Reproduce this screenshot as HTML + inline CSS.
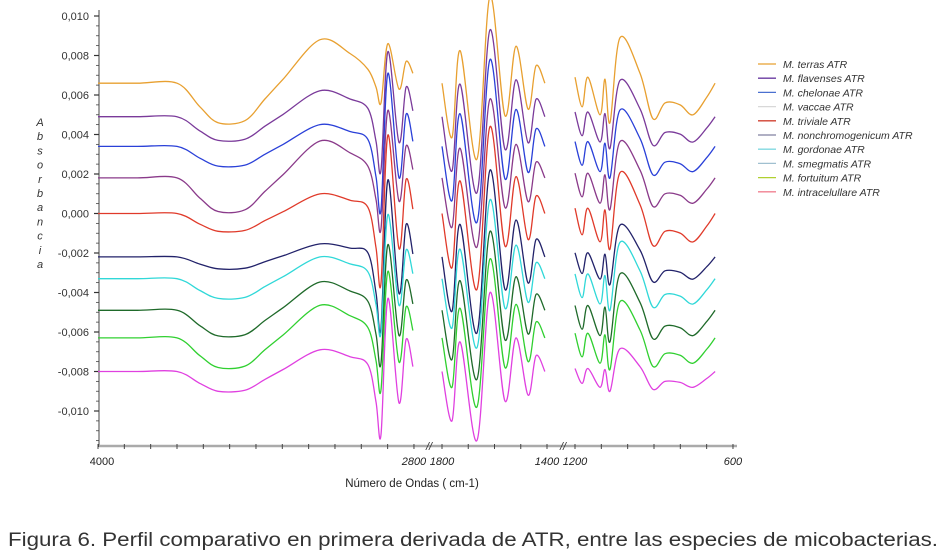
<!DOCTYPE html>
<html><head><meta charset="utf-8"><style>
body{margin:0;background:#fff;width:947px;height:556px;overflow:hidden}
svg{display:block}
text{font-family:"Liberation Sans",Arial,sans-serif}
</style></head><body>
<svg id="chart" width="947" height="556" viewBox="0 0 947 556" xmlns="http://www.w3.org/2000/svg">
<g id="axes"></g>
<g id="series"></g>
<g id="legend"></g>
<text x="412" y="487" font-size="11.5" text-anchor="middle" fill="#222">Número de Ondas ( cm-1)</text>
<text x="8" y="546" font-size="19" fill="#333" textLength="930" lengthAdjust="spacingAndGlyphs">Figura 6. Perfil comparativo en primera derivada de ATR, entre las especies de micobacterias.</text>
</svg>
<script>
// ---- data ----
const seriesNames = ["M. terras ATR","M. flavenses ATR","M. chelonae ATR","M. vaccae ATR","M. triviale ATR","M. nonchromogenicum ATR","M. gordonae ATR","M. smegmatis ATR","M. fortuitum ATR","M. intracelullare ATR"];
const seriesColors = ["#e8a030","#7a3a9a","#2a40d8","#8a3a8a","#e03a2a","#22226a","#30d8d8","#1f6a2a","#30d030","#e040e0"];
const legendColors = ["#e8a030","#6a3aa0","#4a70d0","#d8d8d8","#d04030","#8080a0","#80d8e0","#a0c0d0","#b0d030","#f08090"];
const seriesBase = [0.0066,0.0049,0.0034,0.0018,0.0000,-0.0022,-0.0033,-0.0049,-0.0063,-0.0080];
const smoothAmp = [1.0,0.6,0.5,0.85,0.45,0.3,0.5,0.65,0.75,0.5];
const sharpAmp = [1.0,2.0,2.3,2.0,2.5,2.5,2.0,2.0,2.0,2.3];
const band2Amp = [1.1,1.1,1.1,1.0,1.1,1.1,1.0,1.0,1.0,1.0];
const band3Amp = [1.0,0.8,0.8,0.8,0.9,0.7,0.8,0.8,0.8,0.5];
// shared spectral profiles (wavenumber, deviation)
const region1Wn = [4000,3850,3700,3613,3544,3442,3366,3297,3157,3043,2975,2944,2925,2899,2857,2830,2804];
const region1Smooth = [0,0,0,-0.0012,-0.002,-0.0019,-0.0008,0.0002,0.0022,0.0015,0.0007,0.0006,0.0005,0.0005,0.0005,0.0005,0.0005];
const region1Sharp = [0,0,0,0,0,0,0,0,0,0,0,-0.0008,-0.0015,0.0015,-0.0008,0.0006,0];
const region2Wn = [1800,1762,1731,1667,1617,1560,1518,1472,1442,1408];
const region2Dev = [0,-0.0025,0.0015,-0.0035,0.004,-0.0015,0.0017,-0.0012,0.0008,0];
const region3Wn = [1200,1173,1151,1105,1086,1067,1029,953,904,858,801,752,699,668];
const region3Dev = [0.0003,-0.0012,0.0003,-0.0016,0.0002,-0.002,0.0023,0.0005,-0.0018,-0.001,-0.0011,-0.0016,-0.0007,0];
const yTicks = [0.010,0.008,0.006,0.004,0.002,0.000,-0.002,-0.004,-0.006,-0.008,-0.010];
const xTickLabels = [4000,2800,1800,1400,1200,600];

// ---- scales ----
const NS="http://www.w3.org/2000/svg";
function y(v){return 213.5 - v*19750;}
function x(wn){
  if(wn>=2000) return 98 + (4000-wn)*0.2633;
  if(wn>=1300) return 442 + (1800-wn)*0.2625;
  return 575 + (1200-wn)*0.2633;
}
function mk(tag,attrs,parent){const e=document.createElementNS(NS,tag);for(const k in attrs)e.setAttribute(k,attrs[k]);parent.appendChild(e);return e;}
function fmt(v){return (v<0?"-":"")+Math.abs(v).toFixed(3).replace(".",",");}
function crPath(pts){
  let d="M"+pts[0][0].toFixed(1)+","+pts[0][1].toFixed(1);
  for(let i=0;i<pts.length-1;i++){
    const p0=pts[Math.max(0,i-1)],p1=pts[i],p2=pts[i+1],p3=pts[Math.min(pts.length-1,i+2)];
    const c1=[p1[0]+(p2[0]-p0[0])/6,p1[1]+(p2[1]-p0[1])/6];
    const c2=[p2[0]-(p3[0]-p1[0])/6,p2[1]-(p3[1]-p1[1])/6];
    d+=" C"+c1[0].toFixed(1)+","+c1[1].toFixed(1)+" "+c2[0].toFixed(1)+","+c2[1].toFixed(1)+" "+p2[0].toFixed(1)+","+p2[1].toFixed(1);
  }
  return d;
}

// ---- axes ----
const ax=document.getElementById("axes");
const yl=mk("line",{x1:99,y1:10,x2:99,y2:447,stroke:"#444","stroke-width":1},ax);


for(let v=-0.0115;v<=0.01001;v+=0.0005){
  const t=mk("line",{x1:96,x2:99,y1:y(v),y2:y(v),stroke:"#444","stroke-width":0.8},ax);
  
  
}
yTicks.forEach(v=>{
  const t=mk("line",{x1:94,x2:99,y1:y(v),y2:y(v),stroke:"#333","stroke-width":1.2},ax);
  
  
  const l=mk("text",{x:89,y:y(v)+4,"font-size":11,"text-anchor":"end",fill:"#333"},ax);
  l.textContent=fmt(v);
  
  
});
const yt=mk("text",{x:40,y:120,"font-size":11,"font-style":"italic",fill:"#333","text-anchor":"middle"},ax);


"Absorbancia".split("").forEach((c,i)=>{const s=mk("tspan",{x:40,y:126+i*14.2},yt);s.textContent=c;});
const xl=mk("line",{x1:99,y1:446,x2:737,y2:446,stroke:"#aaa","stroke-width":2.5},ax);


for(let wn=4000;wn>=2800;wn-=100){const t=mk("line",{x1:x(wn),x2:x(wn),y1:444,y2:449,stroke:"#444"},ax);}
for(let wn=1800;wn>=1400;wn-=100){const t=mk("line",{x1:x(wn),x2:x(wn),y1:444,y2:449,stroke:"#444"},ax);}
for(let wn=1200;wn>=600;wn-=100){const t=mk("line",{x1:x(wn),x2:x(wn),y1:444,y2:449,stroke:"#444"},ax);}
xTickLabels.forEach(wn=>{
  const l=mk("text",{x:x(wn)+(wn===4000?4:0),y:465,"font-size":11,"text-anchor":"middle",fill:"#222","font-style":(wn===4000?"normal":"italic")},ax);
  l.textContent=wn;
  
  
});
[429,563].forEach(px=>{
  const b=mk("text",{x:px,y:450,"font-size":11,"text-anchor":"middle",fill:"#333","font-style":"italic"},ax);
  b.textContent="//";
  
  
});

// ---- series ----
const sg=document.getElementById("series");
seriesNames.forEach((name,i)=>{
  const g=mk("g",{},sg);
  
  
  const p1=region1Wn.map((wn,k)=>[x(wn),y(seriesBase[i]+smoothAmp[i]*region1Smooth[k]+sharpAmp[i]*region1Sharp[k])]);
  const p2=region2Wn.map((wn,k)=>[x(wn),y(seriesBase[i]+band2Amp[i]*region2Dev[k])]);
  const p3=region3Wn.map((wn,k)=>[x(wn),y(seriesBase[i]+band3Amp[i]*region3Dev[k])]);
  [p1,p2,p3].forEach((pts,r)=>{
    const p=mk("path",{d:crPath(pts),fill:"none",stroke:seriesColors[i],"stroke-width":1.3},g);
    
    
  });
});

// ---- legend ----
const lg=document.getElementById("legend");
seriesNames.forEach((name,i)=>{
  const g=mk("g",{},lg);
  
  
  const yy=64+i*14.2;
  mk("line",{x1:758,x2:776,y1:yy,y2:yy,stroke:legendColors[i],"stroke-width":1.3},g);
  const t=mk("text",{x:783,y:yy+4,"font-size":10.5,"font-style":"italic",fill:"#333"},g);
  t.textContent=name;
});
</script>
</body></html>
